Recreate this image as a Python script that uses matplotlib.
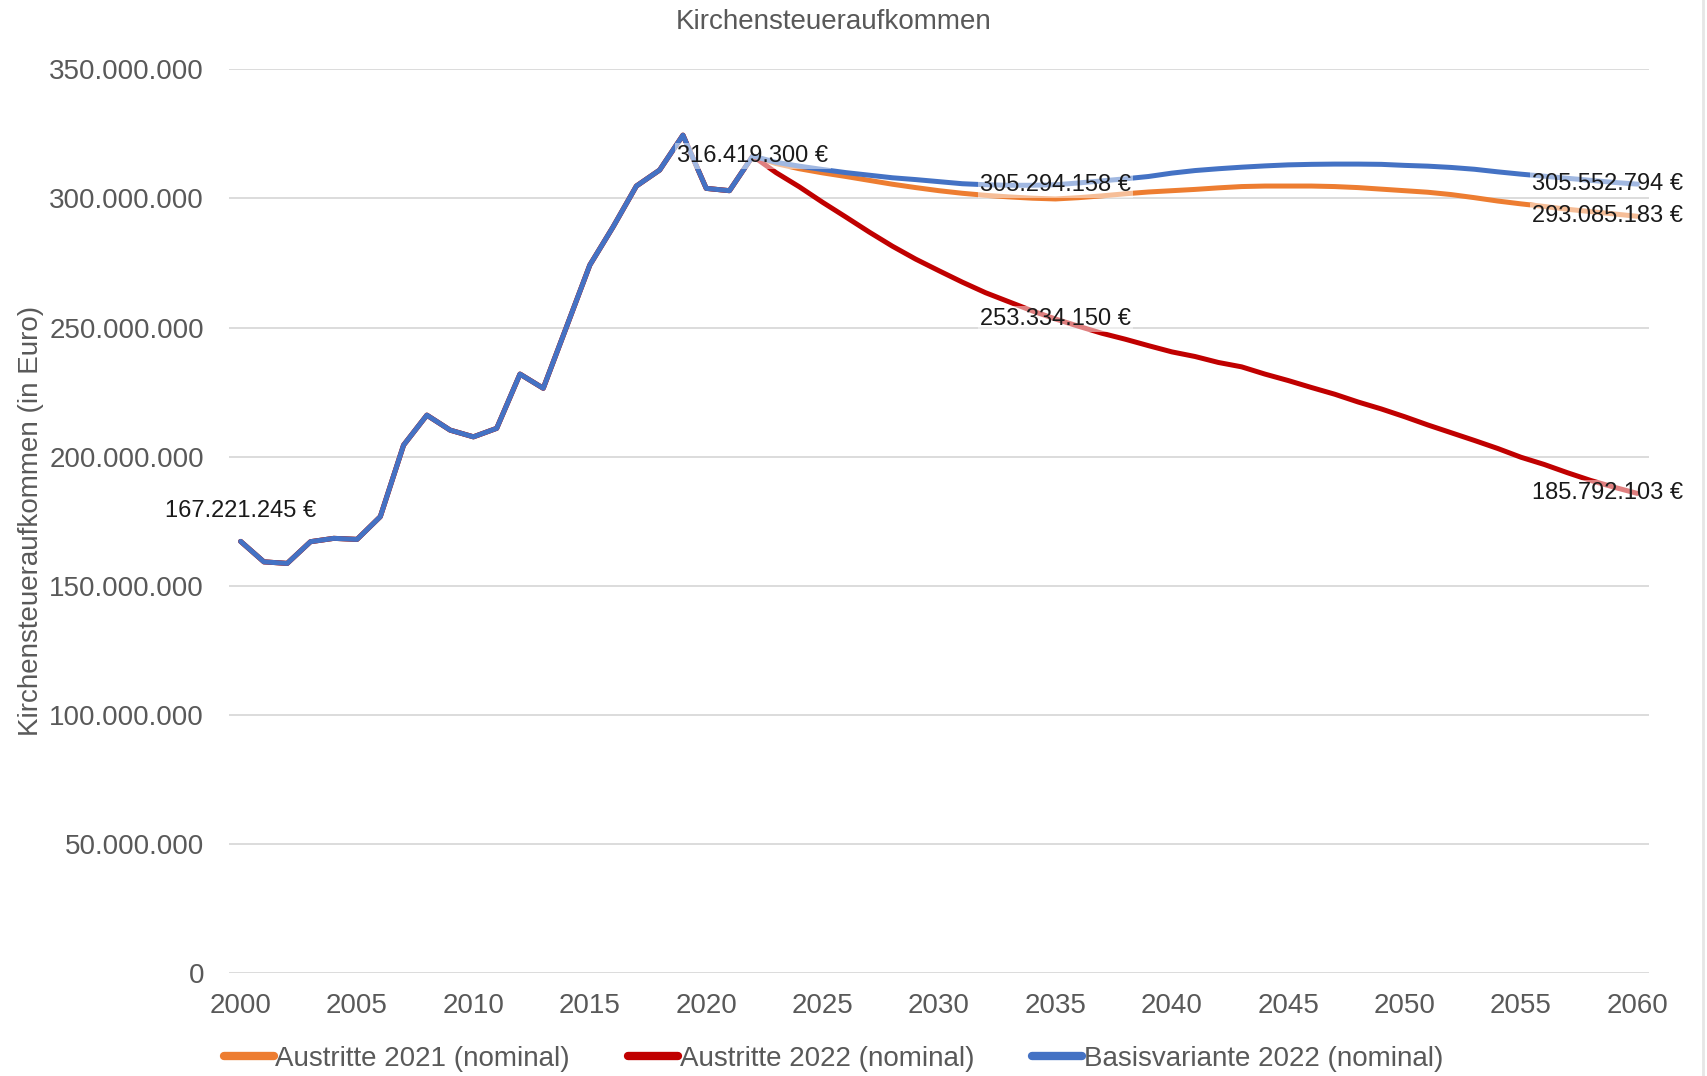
import matplotlib.pyplot as plt
import matplotlib as mpl
from matplotlib.ticker import FuncFormatter, MultipleLocator
from matplotlib.lines import Line2D

plt.rcParams['font.family'] = ['Liberation Sans', 'DejaVu Sans']

# Kirchensteueraufkommen in Mio. Euro
years = list(range(2000, 2061))
history = [167.221245, 159.3, 158.7, 167.1, 168.4, 168.0, 176.8, 204.5, 216.1, 210.3,
           207.7, 211.0, 232.0, 226.5, 250.3, 274.2, 289.0, 304.8, 311.0, 324.5,
           303.9, 303.0, 316.4193]
austritte_2021 = [313.5, 311.5, 309.9, 308.5, 307.0, 305.5, 304.2, 303.0, 302.0, 301.2,
                  300.6, 300.1, 299.8, 300.3, 301.0, 301.8, 302.5, 303.0, 303.5, 304.1,
                  304.6, 304.8, 304.8, 304.8, 304.6, 304.2, 303.6, 303.0, 302.4, 301.5,
                  300.3, 299.0, 297.9, 296.9, 295.8, 294.9, 294.0, 293.085183]
austritte_2022 = [310.0, 304.5, 298.5, 292.8, 287.0, 281.5, 276.5, 272.0, 267.6, 263.5,
                  260.0, 256.5, 253.33415, 250.5, 247.8, 245.5, 243.0, 240.6, 238.8, 236.5,
                  234.8, 232.0, 229.5, 226.8, 224.2, 221.2, 218.5, 215.5, 212.3, 209.3,
                  206.3, 203.2, 199.8, 197.0, 193.8, 190.8, 188.2, 185.792103]
basis_2022 = [314.0, 312.5, 311.2, 310.0, 309.0, 308.0, 307.3, 306.5, 305.7, 305.3,
              305.1, 305.1, 305.294158, 306.0, 306.8, 307.6, 308.5, 309.8, 310.8, 311.5,
              312.1, 312.6, 313.0, 313.2, 313.3, 313.3, 313.2, 312.8, 312.5, 312.0,
              311.3, 310.3, 309.4, 308.6, 307.8, 307.0, 306.2, 305.552794]

series = [
    ("Austritte 2021 (nominal)", austritte_2021, "#ED7D31"),
    ("Austritte 2022 (nominal)", austritte_2022, "#C00000"),
    ("Basisvariante 2022 (nominal)", basis_2022, "#4472C4"),
]

fig = plt.figure(figsize=(17.08, 10.76), dpi=100)
ax = fig.add_axes([229 / 1708, 1 - 973.3 / 1076, 1420 / 1708, 904 / 1076])

gray = "#595959"
for name, proj, color in series:
    y = [v * 1e6 for v in history + proj]
    ax.plot(years, y, color=color, lw=3.6, label=name, solid_capstyle='round',
            solid_joinstyle='round')

ax.set_xlim(1999.5, 2060.5)
ax.set_ylim(0, 350e6)
ax.yaxis.set_major_locator(MultipleLocator(50e6))
ax.xaxis.set_major_locator(MultipleLocator(5))
ax.yaxis.set_major_formatter(FuncFormatter(lambda v, p: f"{int(v):,}".replace(",", ".")))
ax.grid(axis='y', color="#d9d9d9", lw=1.3)
ax.set_axisbelow(True)
for s in ax.spines.values():
    s.set_visible(False)
ax.tick_params(length=0, labelsize=20, labelcolor=gray)
ax.tick_params(axis='y', pad=18)
ax.tick_params(axis='x', pad=14)

ax.set_ylabel("Kirchensteueraufkommen (in Euro)", fontsize=20, color=gray, labelpad=4)
fig.text(0.488, 0.9796, "Kirchensteueraufkommen", fontsize=20, color=gray,
         ha='center', va='center')

box = dict(boxstyle='square,pad=0.1', fc='white', ec='none', alpha=0.5)
def label(x, v, dx=0, dy=0, ha='center'):
    ax.annotate(f"{v:,.0f} €".replace(",", "."), (x, v), xytext=(dx, dy),
                textcoords='offset points', ha=ha, va='center', fontsize=17,
                color="#1a1a1a", bbox=box, zorder=5)

label(2000, history[0] * 1e6, dy=22)
label(2022, history[-1] * 1e6)
label(2035, basis_2022[12] * 1e6)
label(2035, austritte_2022[12] * 1e6)
label(2060, basis_2022[-1] * 1e6, dx=33, ha='right')
label(2060, austritte_2021[-1] * 1e6, dx=33, ha='right')
label(2060, austritte_2022[-1] * 1e6, dx=33, ha='right')

handles = [Line2D([0], [0], color=c, lw=6, solid_capstyle='round') for _, _, c in series]
fig.legend(handles, [n for n, _, _ in series], loc='center', bbox_to_anchor=(0.488, 1 - 1059 / 1076),
           ncol=3, frameon=False, fontsize=20, handlelength=1.8, handletextpad=0.05,
           columnspacing=2.1, labelcolor=gray)

fig.add_artist(Line2D([1703 / 1708, 1703 / 1708], [0, 1], color="#e6e6e6", lw=2))

fig.savefig("out.png", dpi=100)
